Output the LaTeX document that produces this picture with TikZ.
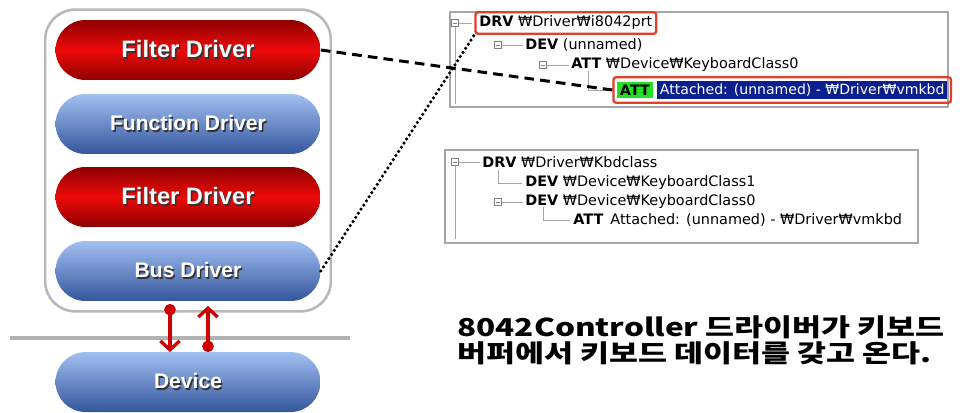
\documentclass[tikz,border=0pt]{standalone}
\usepackage{fontspec}
\setmainfont{Liberation Sans}
\newfontfamily\treefont{DejaVu Sans}
\newfontfamily\cjk[FakeStretch=1.28]{Noto Sans CJK KR}
\usetikzlibrary{fit,arrows.meta}

\definecolor{drvred}{HTML}{EE0A0A}
\definecolor{drvdark}{HTML}{8E0000}
\definecolor{drvlight}{HTML}{A3C0F2}
\definecolor{drvblue}{HTML}{34569C}
\definecolor{markred}{HTML}{E0402A}
\definecolor{selnavy}{HTML}{0B1F8E}
\definecolor{attgreen}{HTML}{22E022}

\newcommand\shadowed[1]{\makebox[0pt][l]{\hspace{0.8pt}\raisebox{-0.8pt}{\textcolor{black!80}{#1}}}#1}

\tikzset{
  pill/.style={rounded corners=0.6cm, minimum width=5.3cm, minimum height=1.2cm, inner sep=0pt, text=white},
  redpill/.style={pill, top color=drvdark, bottom color=drvdark, middle color=drvred, font=\bfseries\fontsize{13.5}{14}\selectfont},
  bluepill/.style={pill, top color=drvlight, bottom color=drvblue, font=\bfseries\fontsize{12}{13}\selectfont},
  tree/.style={anchor=west, inner sep=0pt, font=\treefont\fontsize{8.2}{9}\selectfont},
  treeline/.style={draw=gray!70, line width=0.5pt},
  minusbox/.style={draw=gray, fill=white, minimum size=0.14cm, inner sep=0pt,
    path picture={\draw[gray] ([xshift=1pt]path picture bounding box.west) -- ([xshift=-1pt]path picture bounding box.east);}},
  panel/.style={draw=gray!70, line width=1pt},
  hilite/.style={draw=markred, line width=1.3pt, rounded corners=1.5pt, inner sep=2pt},
  sig/.style={draw=red!80!black, line width=1.9pt, {Circle[length=6.5pt]}-{Straight Barb[length=5pt,width=11pt]}}
}

\begin{document}
\begin{tikzpicture}[x=0.02cm,y=-0.02cm]
\useasboundingbox (0,0) rectangle (962,412);

% driver stack
\draw (188,50) node[redpill] (F1) {\shadowed{Filter Driver}};
\draw (188,124) node[bluepill] (FN) {\shadowed{Function Driver}};
\draw (188,197) node[redpill] (F2) {\shadowed{Filter Driver}};
\draw (188,271) node[bluepill] (B) {\shadowed{Bus Driver}};
\draw (188,382) node[bluepill] (D) {\shadowed{Device}};
\node (S)[draw=gray!55,line width=1.5pt,rounded corners=0.6cm,inner xsep=0.2cm,inner ysep=0.2cm,fit={(F1) (B)}]{};
\draw[gray!60,line width=1.8pt] (10,338) coordinate (H0) -- (350,338) coordinate (H1);

\coordinate (dnA) at (170,304); \coordinate (dnB) at (170,352);
\coordinate (upA) at (208,352); \coordinate (upB) at (208,306);
\draw[sig] (dnA) -- (dnB);
\draw[sig] (upA) -- (upB);

% device tree 1
\draw[panel] (450,12) rectangle (948,107);
\draw[treeline] (455,27) -- (455,104);
\draw (455,23) node[minusbox] (m1) {};
\draw[treeline] (m1.east) -- ++(13,0);
\draw (479,23) node[tree] (d1) {\textbf{DRV} ₩Driver₩i8042prt};
\node (R1)[hilite,fit={(d1)}]{};
\draw (498,45) node[minusbox] (m2) {};
\draw[treeline] (m2.east) -- ++(21,0);
\draw (525,45) node[tree] (v1) {\textbf{DEV} (unnamed)};
\draw (543,65) node[minusbox] (m3) {};
\draw[treeline] (m3.east) -- ++(22,0);
\draw (571,65) node[tree] (a1) {\textbf{ATT} ₩Device₩KeyboardClass0};
\draw[treeline] (588,71) |- (612,90);
\draw (617,90) node[tree,fill=attgreen,inner xsep=1.5pt,inner ysep=1.5pt] (g1) {\textbf{ATT}};
\draw (g1.east) +(4,0) node[tree,fill=selnavy,text=white,inner xsep=1.5pt,inner ysep=1.5pt,font=\treefont\fontsize{8}{9}\selectfont] (s1) {Attached: (unnamed) - ₩Driver₩vmkbd};
\node (R2)[hilite,fit={(g1) (s1)}]{};

% device tree 2
\draw[panel] (445,150) rectangle (918,243);
\draw[treeline] (455,166) -- (455,239);
\draw (455,162) node[minusbox] (m4) {};
\draw[treeline] (m4.east) -- ++(21,0);
\draw (482,162) node[tree] (d2) {\textbf{DRV} ₩Driver₩Kbdclass};
\draw[treeline] (498,170) |- (522,183);
\draw (525,183) node[tree] (v2) {\textbf{DEV} ₩Device₩KeyboardClass1};
\draw (498,202) node[minusbox] (m5) {};
\draw[treeline] (m5.east) -- ++(21,0);
\draw (525,202) node[tree] (v3) {\textbf{DEV} ₩Device₩KeyboardClass0};
\draw[treeline] (543,207) |- (570,220);
\draw (573,220) node[tree] (a2) {\textbf{ATT}\hspace{4pt}Attached: (unnamed) - ₩Driver₩vmkbd};

% links
\draw[line width=1.7pt,dash pattern=on 5.5pt off 3.5pt] (F1.east) -- (R2.west);
\draw[line width=2pt,dash pattern=on 0pt off 2.8pt,line cap=round] (B.east) -- (R1.south west);

\draw (457,340) node[anchor=west,inner sep=0pt,align=left,font=\cjk\bfseries\fontsize{14}{14.8}\selectfont] (T) {8042Controller 드라이버가 키보드\\버퍼에서 키보드 데이터를 갖고 온다.};
\end{tikzpicture}
\end{document}
